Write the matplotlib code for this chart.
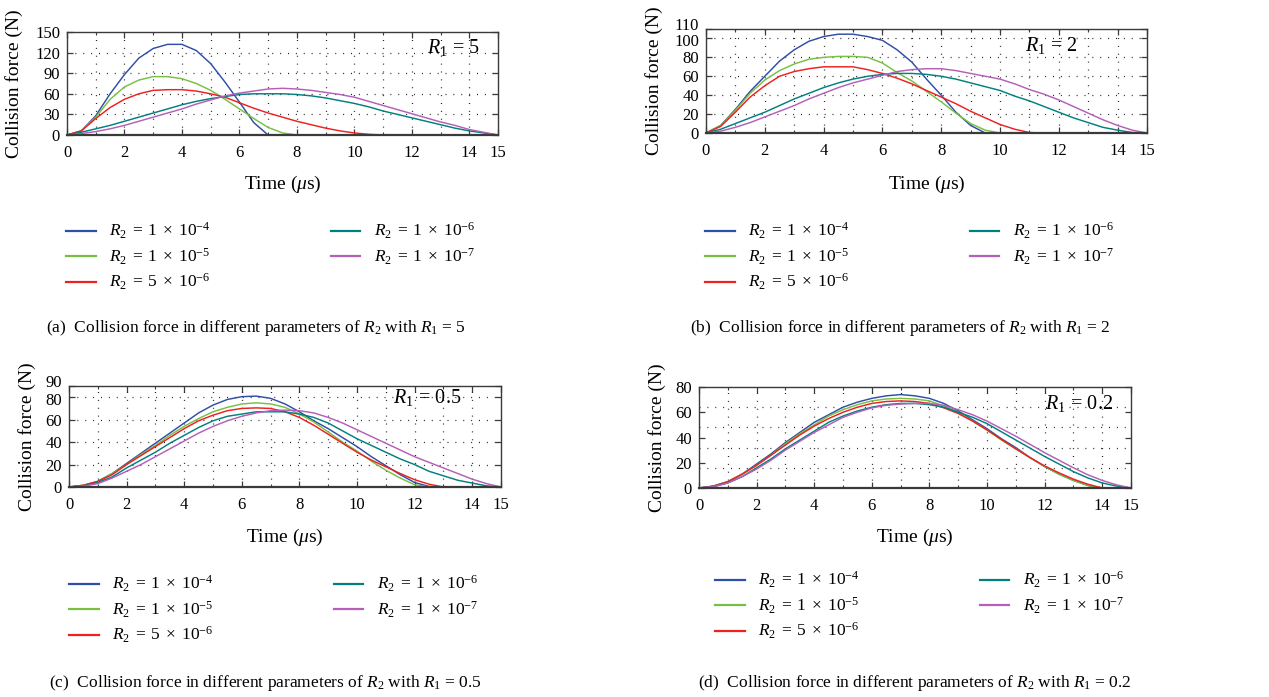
import numpy as np
import matplotlib
matplotlib.use("Agg")
import matplotlib.pyplot as plt
from matplotlib.ticker import FixedLocator
from matplotlib.transforms import ScaledTranslation

plt.rcParams['font.family'] = ['Liberation Serif', 'DejaVu Serif']
plt.rcParams['mathtext.fontset'] = 'custom'
plt.rcParams['mathtext.rm'] = 'Liberation Serif'
plt.rcParams['mathtext.it'] = 'Liberation Serif:italic'
plt.rcParams['mathtext.bf'] = 'Liberation Serif:bold'

# ---------------- data ----------------
time_us = np.arange(0, 15.01, 0.5)

series_labels = [r'$R_2\;=\;1\;\times\;10^{-4}$', r'$R_2\;=\;1\;\times\;10^{-5}$', r'$R_2\;=\;5\;\times\;10^{-6}$',
                 r'$R_2\;=\;1\;\times\;10^{-6}$', r'$R_2\;=\;1\;\times\;10^{-7}$']
series_colors = ['#2f4ea6', '#77c043', '#ee2020', '#00807e', '#b55fb8']

# (a) R1 = 5
a_r2_1e4 = [0, 6, 28, 60, 88, 112, 126, 132, 132, 123, 104, 77, 48, 18, 0] + [0] * 16
a_r2_1e5 = [0, 6, 26, 52, 70, 80, 85, 85, 82, 75, 65, 52, 38, 24, 11, 3, 0] + [0] * 14
a_r2_5e6 = [0, 6, 24, 40, 52, 60, 65, 66, 66, 64, 60, 55, 47, 39, 32, 26, 20, 15, 10, 6, 3, 1, 0] + [0] * 8
a_r2_1e6 = [0, 4, 9, 14, 20, 26, 32, 38, 44, 49, 53, 56, 59, 60, 60, 60, 59, 57, 54, 50, 46, 41, 35, 30,
            25, 20, 15, 10, 6, 3, 0]
a_r2_1e7 = [0, 2, 5, 9, 14, 20, 26, 32, 38, 45, 51, 57, 61, 64, 67, 68, 67, 65, 62, 59, 55, 49, 43, 37,
            31, 25, 19, 14, 8, 4, 0]

# (b) R1 = 2
b_r2_1e4 = [0, 8, 25, 44, 60, 76, 88, 97, 102, 104.5, 104.5, 102, 98, 88, 75, 57, 40, 22, 8, 0] + [0] * 11
b_r2_1e5 = [0, 8, 24, 42, 56, 66, 73, 78, 80, 81, 81, 80, 74, 64, 55, 44, 33, 21, 10, 3, 0] + [0] * 10
b_r2_5e6 = [0, 7, 22, 38, 50, 60, 65, 68, 70, 70, 70, 67, 63, 58, 52, 45, 38, 31, 23, 16, 9, 4, 0.5, 0] + [0] * 7
b_r2_1e6 = [0, 4, 10, 16, 22, 29, 36, 42, 48, 53, 57, 60, 62, 63, 63, 62, 60, 57, 53, 49, 45, 39, 34, 28,
            22, 16, 11, 6, 3, 0.5, 0]
b_r2_1e7 = [0, 2, 6, 11, 17, 23, 29, 36, 42, 48, 53, 57, 61, 65, 67, 68, 68, 66, 63, 60, 57, 52, 46, 41,
            35, 28, 21, 14, 8, 3, 0]

# (c) R1 = 0.5
c_r2_1e4 = [0, 1.5, 5, 12, 21, 30, 39, 48, 57, 66, 73, 78, 80.5, 81, 79, 74, 67, 59, 52, 44, 36, 27, 19,
            11, 4, 0.5, 0] + [0] * 4
c_r2_1e5 = [0, 1.5, 5, 12, 20, 29, 37, 46, 54, 61, 67, 71, 74, 75, 74, 71, 65, 58, 49, 40, 32, 23, 15, 8,
            2, 0] + [0] * 5
c_r2_5e6 = [0, 1.5, 5, 11, 20, 28, 36, 44, 52, 59, 64, 68, 70, 70.5, 70, 67, 62, 55, 47, 39, 31, 24, 18,
            12, 6.5, 2.5, 0] + [0] * 4
c_r2_1e6 = [0, 1, 4, 9, 17, 24, 31, 39, 46, 53, 59, 63, 65, 67, 67, 67, 65, 62, 57, 50, 43, 37, 31, 25,
            20, 14, 10, 6, 3.5, 1, 0]
c_r2_1e7 = [0, 0.8, 3, 8, 14, 20, 27, 34, 41, 48, 54, 59, 63, 66, 68, 68.5, 68, 66, 62, 57, 51, 45, 39,
            33, 27, 22, 17, 12, 7, 3, 0]

# (d) R1 = 0.2
d_r2_1e4 = [0, 1.5, 5, 11, 19, 27, 36, 44, 52, 58, 64, 68, 71, 73, 74, 73, 71, 67, 61, 54, 47, 39, 32,
            24, 17, 11, 6, 2, 0, 0, 0]
d_r2_1e5 = [0, 1.5, 5, 11, 18, 26, 35, 43, 50, 57, 62, 66, 69, 70.5, 71, 70.5, 69, 65, 60, 53, 46, 38,
            31, 24, 17, 11, 6, 2, 0, 0, 0]
d_r2_5e6 = [0, 1.5, 5, 11, 18, 26, 34, 42, 49, 55, 60, 64, 67, 68.5, 69, 68.5, 67, 63.5, 59, 53, 46,
            38.5, 31, 24, 17.5, 12, 7, 3, 0, 0, 0]
d_r2_1e6 = [0, 1, 4, 9, 16, 23, 31, 38, 45, 52, 57, 61, 64, 66, 67, 67, 66, 64, 60, 56, 51, 44.5, 38,
            31.5, 25, 19, 13, 8, 4, 1.5, 0]
d_r2_1e7 = [0, 1, 4, 9, 15, 22, 30, 37, 44, 50, 56, 60, 63.5, 65.5, 66.5, 67, 67, 65.5, 62, 58, 53, 47,
            41, 34.5, 28, 22, 16, 10.5, 6, 2.5, 0]

x_ticks = [0, 2, 4, 6, 8, 10, 12, 14, 15]
panels = [
    dict(series=[a_r2_1e4, a_r2_1e5, a_r2_5e6, a_r2_1e6, a_r2_1e7], ymax=150,
         yticks=[0, 30, 60, 90, 120, 150], ygrid=[30, 60, 90, 120], r1='5',
         caption=r'(a)  Collision force in different parameters of $R_2$ with $R_1$ = 5'),
    dict(series=[b_r2_1e4, b_r2_1e5, b_r2_5e6, b_r2_1e6, b_r2_1e7], ymax=110,
         yticks=[0, 20, 40, 60, 80, 100, 110], ygrid=[20, 40, 60, 80, 100], r1='2',
         caption=r'(b)  Collision force in different parameters of $R_2$ with $R_1$ = 2'),
    dict(series=[c_r2_1e4, c_r2_1e5, c_r2_5e6, c_r2_1e6, c_r2_1e7], ymax=90,
         yticks=[0, 20, 40, 60, 80, 90], ygrid=[20, 40, 60, 80], r1='0.5',
         caption=r'(c)  Collision force in different parameters of $R_2$ with $R_1$ = 0.5'),
    dict(series=[d_r2_1e4, d_r2_1e5, d_r2_5e6, d_r2_1e6, d_r2_1e7], ymax=80,
         yticks=[0, 20, 40, 60, 80], ygrid=[16, 32, 48, 64], r1='0.2',
         caption=r'(d)  Collision force in different parameters of $R_2$ with $R_1$ = 0.2'),
]

# ---------------- layout (pixels) ----------------
W, H = 1269, 697
fig = plt.figure(figsize=(W / 100, H / 100), dpi=100)

boxes = [(67, 498, 32, 135), (706, 1147, 29, 133), (69, 501, 386, 487), (699, 1131, 387, 488)]
ylabel_x = [14, 654, 27, 657]
xlabel_y = [184, 184, 537, 537]
r1_pos = [(454, 47), (1051, 45), (427, 397), (1079, 403)]
legend_anchor = [(66, 221), (705, 221), (69, 574), (715, 570)]
caption_pos = [(256, 328), (900, 328), (265, 683), (915, 683)]
crowded_top = [False, True, True, False]

frame_color = '#3a3a3a'
for p, box, ylx, xly, r1p, lga, cap, crowd in zip(panels, boxes, ylabel_x, xlabel_y, r1_pos,
                                                   legend_anchor, caption_pos, crowded_top):
    l, r, t, b = box
    ax = fig.add_axes([l / W, 1 - b / H, (r - l) / W, (b - t) / H])
    for vals, c in zip(p['series'], series_colors):
        ax.plot(time_us, vals, color=c, lw=1.05, solid_joinstyle='round')
    ax.set_xlim(0, 15)
    ax.set_ylim(0, p['ymax'])
    ax.set_xticks(x_ticks)
    ax.xaxis.set_minor_locator(FixedLocator(range(1, 15, 2)))
    ax.set_yticks(p['yticks'])
    for v in range(1, 15):
        ax.axvline(v, color='#222222', lw=0.9, ls=(0, (0.8, 5.5)), zorder=0)
    for v in p['ygrid']:
        ax.axhline(v, color='#222222', lw=0.9, ls=(0, (0.8, 5.5)), zorder=0)
    ax.tick_params(which='both', direction='in', top=True, right=True, color=frame_color,
                   labelsize=12, pad=5)
    ax.tick_params(axis='x', which='major', pad=7)
    ax.tick_params(which='major', length=4, width=0.9)
    ax.tick_params(which='minor', length=2.5, width=0.8)
    for s in ax.spines.values():
        s.set_color(frame_color)
        s.set_linewidth(1.0)
    ax.spines['bottom'].set_linewidth(1.6)
    if crowd:
        ylbls = ax.get_yticklabels()
        ylbls[-1].set_transform(ylbls[-1].get_transform() + ScaledTranslation(0, 5 / 100, fig.dpi_scale_trans))
        ylbls[-2].set_transform(ylbls[-2].get_transform() + ScaledTranslation(0, -1.5 / 100, fig.dpi_scale_trans))
    ax.set_ylabel('Collision force (N)', fontsize=14)
    ax.yaxis.set_label_coords((ylx - l) / (r - l), 0.5)
    ax.yaxis.label.set_va('center')
    ax.set_xlabel(r'Time ($\mu$s)', fontsize=14)
    ax.xaxis.set_label_coords(0.5, (b - xly) / (b - t))
    ax.xaxis.label.set_va('center')
    ax.text((r1p[0] - l) / (r - l), (b - r1p[1]) / (b - t), r'$R_1\,=\,$' + p['r1'],
            transform=ax.transAxes, ha='center', va='center', fontsize=14.5)
    handles = ax.get_lines()[:5]
    leg = ax.legend(handles, series_labels, ncol=2, loc='upper left',
                    bbox_to_anchor=(lga[0] / W, 1 - lga[1] / H), bbox_transform=fig.transFigure,
                    frameon=False, fontsize=12.5, handlelength=1.7, handletextpad=0.8,
                    columnspacing=6.9, labelspacing=0.3, borderpad=0, borderaxespad=0)
    for ln in leg.get_lines():
        ln.set_linewidth(1.6)
    fig.text(cap[0] / W, 1 - cap[1] / H, p['caption'], ha='center', va='center', fontsize=12.5)

fig.savefig('out.png', dpi=100)
